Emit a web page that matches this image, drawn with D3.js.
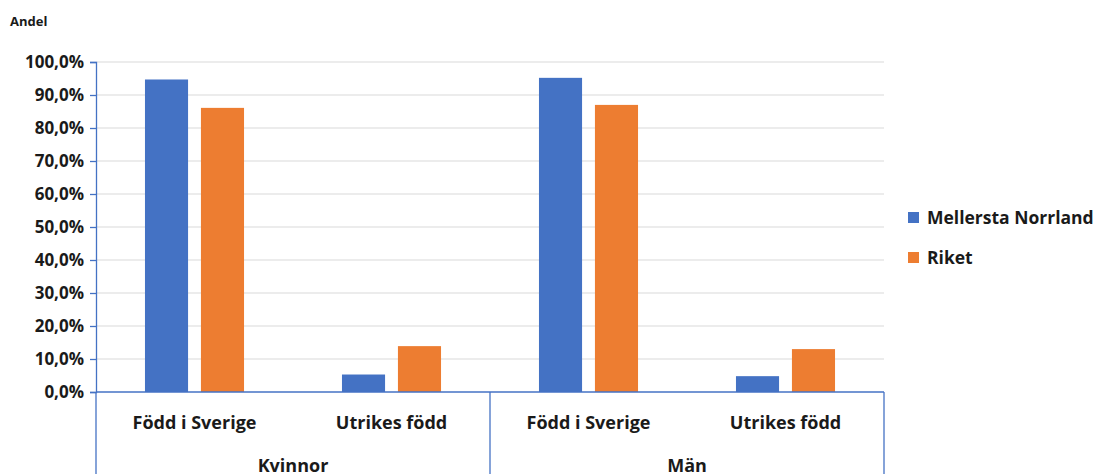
<!DOCTYPE html>
<html>
<head>
<meta charset="utf-8">
<script src="https://cdn.jsdelivr.net/npm/d3@7/dist/d3.min.js"></script>
<style>
  body { margin: 0; background: #fff; }
  text { font-family: "Open Sans", "Noto Sans", sans-serif; font-weight: 700; fill: #1a1a1a; }
</style>
</head>
<body>
<div id="chart"></div>
<script>
// chart data
const groups = ['Kvinnor', 'Män'];
const categories = ['Född i Sverige', 'Utrikes född'];
const seriesNames = ['Mellersta Norrland', 'Riket'];
const mellerstaNorrland = [94.7, 5.3, 95.2, 4.8];
const riket = [86.1, 13.9, 87.0, 13.0];
const yTicks = [0, 10, 20, 30, 40, 50, 60, 70, 80, 90, 100];
const colors = ['#4472c4', '#ed7d31'];

const width = 1107, height = 474;
const margin = { left: 96, right: 223, top: 62, bottom: 82 };
const plotW = width - margin.left - margin.right;
const plotH = height - margin.top - margin.bottom;
const axisColor = '#4472c4';

const svg = d3.select('#chart').append('svg')
  .attr('width', width)
  .attr('height', height);

// flat list of leaf categories: group + category
const leaves = [];
groups.forEach((g, gi) => categories.forEach((c, ci) => leaves.push({ group: g, cat: c, idx: gi * categories.length + ci })));

const x0 = d3.scaleBand()
  .domain(leaves.map(d => d.idx))
  .range([margin.left, margin.left + plotW]);

const x1 = d3.scaleBand()
  .domain(seriesNames)
  .range([0, x0.bandwidth()])
  .paddingInner(0.23)
  .paddingOuter(0.875);

const y = d3.scaleLinear()
  .domain([0, 100])
  .range([margin.top + plotH, margin.top]);

const fmt = v => d3.format('.1f')(v).replace('.', ',') + '%';

// gridlines
svg.append('g')
  .selectAll('line')
  .data(yTicks.filter(t => t > 0))
  .enter().append('line')
  .attr('x1', margin.left).attr('x2', margin.left + plotW)
  .attr('y1', d => y(d)).attr('y2', d => y(d))
  .attr('stroke', '#d9d9d9')
  .attr('stroke-width', 1.2);

// bars
const series = [mellerstaNorrland, riket];
const barG = svg.append('g');
series.forEach((vals, si) => {
  barG.selectAll('.bar-' + si)
    .data(leaves)
    .enter().append('rect')
    .attr('x', d => x0(d.idx) + x1(seriesNames[si]))
    .attr('y', d => y(vals[d.idx]))
    .attr('width', x1.bandwidth())
    .attr('height', d => y(0) - y(vals[d.idx]))
    .attr('fill', colors[si]);
});

// y axis
const yAxis = d3.axisLeft(y)
  .tickValues(yTicks)
  .tickFormat(fmt)
  .tickSize(6)
  .tickPadding(6);

const yg = svg.append('g')
  .attr('transform', `translate(${margin.left},0)`)
  .call(yAxis)
  .attr('font-size', 17)
  .attr('font-family', null);
yg.select('.domain').attr('stroke', axisColor).attr('stroke-width', 1.3);
yg.selectAll('.tick line').attr('stroke', axisColor).attr('stroke-width', 1.3);
yg.selectAll('.tick text')
  .style('font-size', '17px')
  .attr('fill', '#1a1a1a');

// x axis baseline
svg.append('line')
  .attr('x1', margin.left).attr('x2', margin.left + plotW)
  .attr('y1', y(0)).attr('y2', y(0))
  .attr('stroke', axisColor).attr('stroke-width', 1.3);

// group separators
const groupEdges = [0, categories.length, leaves.length].map(i =>
  i < leaves.length ? x0(i) : margin.left + plotW);
svg.append('g')
  .selectAll('line')
  .data(groupEdges)
  .enter().append('line')
  .attr('x1', d => d).attr('x2', d => d)
  .attr('y1', y(0)).attr('y2', height)
  .attr('stroke', axisColor).attr('stroke-width', 1.3);

// category labels
svg.append('g')
  .selectAll('text')
  .data(leaves)
  .enter().append('text')
  .attr('x', d => x0(d.idx) + x0.bandwidth() / 2)
  .attr('y', y(0) + 37)
  .attr('text-anchor', 'middle')
  .style('font-size', '18px')
  .text(d => d.cat);

// group labels
svg.append('g')
  .selectAll('text')
  .data(groups)
  .enter().append('text')
  .attr('x', (d, i) => (groupEdges[i] + groupEdges[i + 1]) / 2)
  .attr('y', y(0) + 80)
  .attr('text-anchor', 'middle')
  .style('font-size', '18px')
  .text(d => d);

// axis title
svg.append('text')
  .attr('x', 10).attr('y', 26)
  .style('font-size', '13px')
  .text('Andel');

// legend
const legend = svg.append('g').attr('transform', 'translate(908,0)');
seriesNames.forEach((name, i) => {
  const ly = 218 + i * 40;
  legend.append('rect')
    .attr('x', 0).attr('y', ly - 6)
    .attr('width', 11).attr('height', 11)
    .attr('fill', colors[i]);
  legend.append('text')
    .attr('x', 19).attr('y', ly + 6)
    .style('font-size', '17.5px')
    .text(name);
});
</script>
</body>
</html>
